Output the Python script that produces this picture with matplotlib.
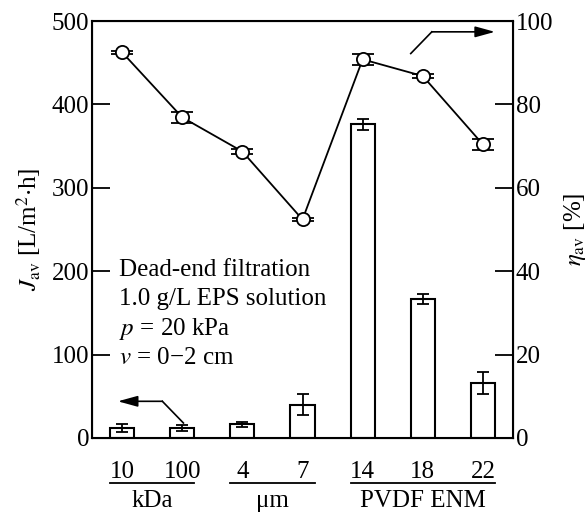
import matplotlib
matplotlib.use("Agg")
import matplotlib.pyplot as plt
import numpy as np

plt.rcParams['font.family'] = ['Liberation Serif', 'DejaVu Serif']
plt.rcParams['mathtext.fontset'] = 'stix'

categories = ["10", "100", "4", "7", "14", "18", "22"]
flux = [12, 12, 16.5, 40, 376, 167, 66]
flux_err = [4.5, 4, 3, 13, 6.5, 6, 13]
rejection = [92.5, 76.9, 68.7, 52.4, 90.8, 86.8, 70.4]
rejection_err = [0.3, 1.3, 0.6, 0.4, 1.4, 0.5, 1.3]
groups = [("kDa", 0, 1), ("\u03bcm", 2, 3), ("PVDF ENM", 4, 6)]
conditions = ["Dead-end filtration", "1.0 g/L EPS solution", "$p$ = 20 kPa", "$v$ = 0\u22122 cm"]

FS = 18
fig = plt.figure(figsize=(5.87, 5.13), dpi=100)
ax = fig.add_axes([92/587, 75/513, 421/587, 417/513])
x = np.arange(len(categories))
ax.bar(x, flux, width=0.4, facecolor='white', edgecolor='black', linewidth=1.5, zorder=2)
ax.errorbar(x, flux, yerr=flux_err, fmt='none', ecolor='black', elinewidth=1.3,
            capsize=4, capthick=1.3, zorder=3)
ax.set_xlim(-0.5, 6.5)
ax.set_ylim(0, 500)
ax.set_yticks([0, 100, 200, 300, 400, 500])
ax.set_xticks([])
ax.tick_params(axis='y', direction='in', length=13, width=1.3, labelsize=FS, pad=2)
for s in ax.spines.values():
    s.set_linewidth(1.5)
ax.set_ylabel(r"$J_{\rm av}$ [L/m$^2$$\cdot$h]", fontsize=FS, labelpad=6)

ax2 = ax.twinx()
ax2.set_ylim(0, 100)
ax2.set_yticks([0, 20, 40, 60, 80, 100])
ax2.errorbar(x, rejection, yerr=rejection_err, fmt='-o', color='black', mfc='white',
             mec='black', ms=9.5, mew=1.3, lw=1.3, elinewidth=1.3, capsize=8, capthick=1.3, zorder=5)
ax2.tick_params(axis='y', direction='in', length=13, width=1.3, labelsize=FS, pad=2)
ax2.set_ylabel(r"$\eta_{\rm av}$ [%]", fontsize=FS, labelpad=6)
ax2.set_xlim(-0.5, 6.5)

# category labels and group labels
xt = ax.get_xaxis_transform()
for xi, c in zip(x, categories):
    ax.text(xi, -0.082, c, transform=xt, ha='center', va='center', fontsize=FS)
for name, a, b in groups:
    ax.plot([a - 0.2, b + 0.2], [-0.107, -0.107], transform=xt,
            color='black', lw=1.3, clip_on=False)
    ax.text((a + b) / 2, -0.150, name, transform=xt,
            ha='center', va='center', fontsize=FS)

# conditions text
for yy, line in zip([0.403, 0.333, 0.261, 0.192], conditions):
    ax.text(0.063, yy, line, transform=ax.transAxes, ha='left', va='center', fontsize=FS)

# arrows
astyle = dict(arrowstyle='-|>,head_length=0.8,head_width=0.22', color='black', lw=1.2,
              mutation_scale=15, shrinkA=0, shrinkB=0)
ax.annotate("", xy=(-0.07, 44), xytext=(0.67, 44), arrowprops=astyle, zorder=6)
ax.plot([0.67, 1.02], [44, 18], color='black', lw=1.2, zorder=6)
ax2.annotate("", xy=(6.2, 97.4), xytext=(5.15, 97.4), arrowprops=astyle, zorder=6)
ax2.plot([4.8, 5.15], [92.2, 97.4], color='black', lw=1.2, zorder=6)

fig.savefig("out.png", dpi=100)
